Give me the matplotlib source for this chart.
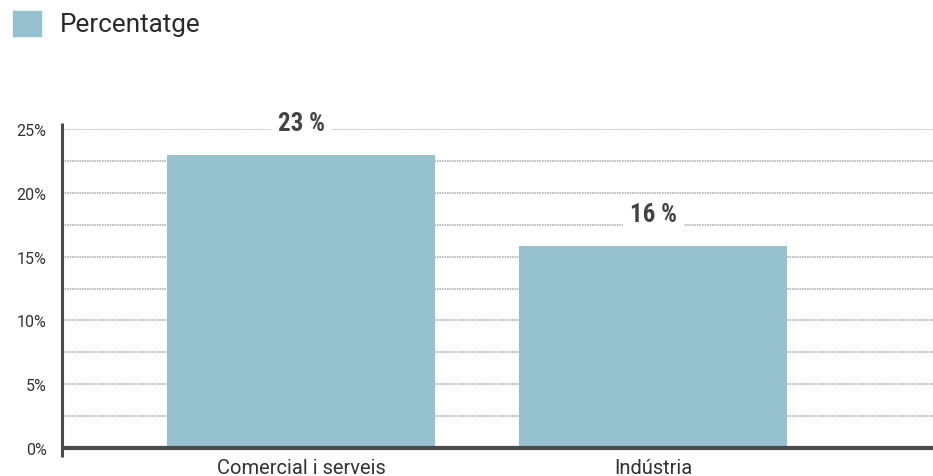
import matplotlib
matplotlib.use("Agg")
import matplotlib.pyplot as plt
from matplotlib.patches import Rectangle
from matplotlib.transforms import blended_transform_factory

categories = ["Comercial i serveis", "Indústria"]
values = [23.0, 15.8]
series_name = "Percentatge"
y_ticks = [0, 5, 10, 15, 20, 25]
y_tick_labels = ["0%", "5%", "10%", "15%", "20%", "25%"]

BAR_COLOR = "#95c2ce"
TEXT_COLOR = "#333333"
AXIS_COLOR = "#4a4a4a"
GRID_COLOR = "#b4b4b4"

W, H, DPI = 933, 477, 100
fig = plt.figure(figsize=(W / DPI, H / DPI), dpi=DPI)
fig.patch.set_facecolor("white")

left, right, bottom, top = 62, 933, 449, 130
ax = fig.add_axes([left / W, 1 - bottom / H, (right - left) / W, (bottom - top) / H])

x = list(range(len(categories)))
ax.bar(x, values, width=0.76, color=BAR_COLOR, zorder=2)

ax.set_xlim(-0.679, 1.795)
ax.set_ylim(0, 25)

# dotted horizontal grid every 2.5 points
grid_levels = [i * 2.5 for i in range(1, 11)]
for g in grid_levels:
    ax.axhline(g, color=GRID_COLOR, lw=1.2, ls=(0, (1, 0.5)), zorder=1)

for s in ax.spines.values():
    s.set_visible(False)

# axis lines
trans = blended_transform_factory(ax.transAxes, ax.transData)
ax.plot([0, 0], [-0.7, 25.5], transform=trans, color=AXIS_COLOR, lw=2.2,
        clip_on=False, zorder=4, solid_capstyle="butt")
ax.plot([0, 1], [0, 0], transform=trans, color=AXIS_COLOR, lw=3.0,
        clip_on=False, zorder=4, solid_capstyle="butt")

ax.set_yticks(y_ticks)
ax.set_yticklabels(y_tick_labels, fontfamily="Roboto", fontsize=11.5, color=TEXT_COLOR)
ax.set_xticks(x)
ax.set_xticklabels(categories, fontfamily="Roboto", fontsize=14.5, color=TEXT_COLOR)
ax.tick_params(axis="y", length=0, pad=11)
ax.tick_params(axis="x", length=0, pad=7)

# value labels above bars
for xi, v in zip(x, values):
    ax.annotate(f"{v:.0f} %", xy=(xi, v), xytext=(0, 23), textcoords="offset points",
                ha="center", va="center", fontsize=18, fontweight="bold",
                fontstretch="condensed",
                family=["Roboto Condensed", "DejaVu Sans"], color="#444444",
                bbox=dict(boxstyle="square,pad=0.28", fc="white", ec="none"),
                zorder=5)

# legend
fig.patches.append(Rectangle((13 / W, 1 - 37 / H), 28 / W, 25 / H,
                             transform=fig.transFigure, color=BAR_COLOR))
fig.text(60 / W, 1 - 25 / H, series_name, fontfamily="Roboto", fontsize=18.8,
         color="#2a2a2a", va="center", ha="left")

fig.savefig("out.png", dpi=DPI)
